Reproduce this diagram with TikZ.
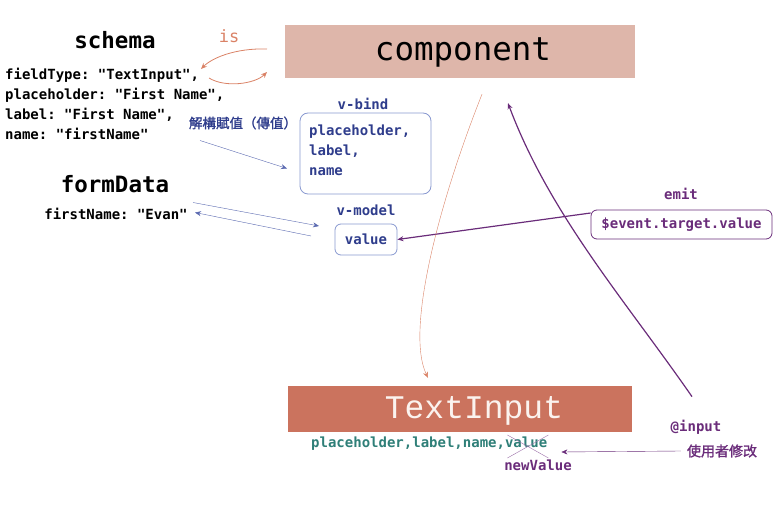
\documentclass[tikz,border=0pt]{standalone}
\usepackage{fontspec}
\setmonofont{DejaVu Sans Mono}
\newfontfamily\cjk[FakeBold=1.5]{Noto Sans CJK TC}
\newfontfamily\slabmono{Liberation Mono}
\usetikzlibrary{arrows.meta, positioning}
\definecolor{isorange}{RGB}{218, 130, 102}
\definecolor{compfill}{RGB}{222, 182, 170}
\definecolor{inputfill}{RGB}{203, 115, 94}
\definecolor{inputtext}{RGB}{251, 243, 239}
\definecolor{bindblue}{RGB}{47, 61, 140}
\definecolor{boxblue}{RGB}{136, 152, 208}
\definecolor{arrowblue}{RGB}{90, 105, 176}
\definecolor{emitpurple}{RGB}{106, 44, 122}
\definecolor{crosspurple}{RGB}{155, 111, 168}
\definecolor{propteal}{RGB}{47, 127, 120}

\tikzset{
  code/.style={font=\ttfamily\bfseries\fontsize{14}{20}\selectfont, inner sep=0pt},
  heading/.style={font=\ttfamily\bfseries\fontsize{22.5}{26}\selectfont, inner sep=0pt},
  cjktext/.style={font=\cjk\fontsize{13.5}{16}\selectfont, inner sep=0pt},
  tip/.style={-{Stealth[length=6pt, width=5pt]}},
}

\begin{document}
\begin{tikzpicture}[x=1pt, y=-1pt]
  \useasboundingbox (0,0) rectangle (784,510);

  % Schema
  \node[heading] (schema) at (115,40) {schema};
  \node[code, align=left, anchor=north west] (schemadata) at (5,68) {fieldType: "TextInput",\\placeholder: "First Name",\\label: "First Name",\\name: "firstName"};

  % Component
  \node[fill=compfill, minimum width=350pt, minimum height=53pt] (component) at (460,51.5) {};
  \node[font=\ttfamily\fontsize{32.5}{36}\selectfont, inner sep=0pt] (comptext) at (463,52) {component};

  % is
  \node[font=\ttfamily\fontsize{17}{20}\selectfont, text=isorange, inner sep=0pt] (is) at (229,36) {is};
  \coordinate (isfrom) at (267,49);
  \coordinate (isto) at (201,69);
  \coordinate (isback) at (209,78);
  \coordinate (isback end) at (267,72);
  \draw[isorange, thick, tip] (isfrom) .. controls (235,48) and (212,58) .. (isto);
  \draw[isorange, thick, tip] (isback) .. controls (225,88) and (255,84) .. (isback end);

  % v-bind
  \node[code, text=bindblue] (vbindlbl) at (363,104) {v-bind};
  \node[draw=boxblue, thick, rounded corners=8pt, minimum width=131pt, minimum height=81pt] (vbind) at (365.5,153.5) {};
  \node[code, text=bindblue, align=left, anchor=north west] (vbindtext) at (309,125) {placeholder,\\label,\\name};

  % Destructuring
  \node[cjktext, text=bindblue] (destruct) at (243,123) {解構賦值（傳值）};
  \coordinate (destruct from) at (200,140.5);
  \coordinate (destruct to) at (287,168.5);
  \draw[arrowblue, tip] (destruct from) -- (destruct to);

  % formData
  \node[heading] (formdata) at (115,184) {formData};
  \node[code] (formvalue) at (116,214) {firstName: "Evan"};

  % v-model
  \node[code, text=bindblue] (vmodellbl) at (366,210) {v-model};
  \node[draw=boxblue, thick, rounded corners=6pt, minimum width=62pt, minimum height=31pt, code, text=bindblue] (value) at (366,239.5) {value};
  \coordinate (model from) at (193,202.5);
  \coordinate (model to) at (319,226);
  \coordinate (model back) at (311,236);
  \coordinate (model back end) at (195,212.5);
  \draw[arrowblue, tip] (model from) -- (model to);
  \draw[arrowblue, tip] (model back) -- (model back end);

  % emit
  \node[code, text=emitpurple] (emitlbl) at (681,194) {emit};
  \node[draw=emitpurple, thick, rounded corners=6pt, minimum width=181pt, minimum height=29pt, code, text=emitpurple] (event) at (681.5,224.5) {\$event.target.value};
  \draw[emitpurple, line width=1.2pt, tip] ([yshift=11.5pt]event.west) -- (value.east);

  % TextInput
  \node[fill=inputfill, minimum width=344pt, minimum height=46pt] (textinput) at (460,409) {};
  \node[font=\slabmono\fontsize{33}{36}\selectfont, text=inputtext, inner sep=0pt] (inputtextlbl) at (474,411) {TextInput};

  % Props down
  \draw[isorange, tip] ([xshift=22pt, yshift=-16pt]component.south) .. controls (440,200) and (405,330) .. ([xshift=-32pt, yshift=8pt]textinput.north);

  \node[code, text=propteal, anchor=west] (props) at (311,444) {placeholder,label,name,value};
  \draw[crosspurple] ([xshift=-40pt, yshift=9pt]props.east) -- ([xshift=1pt, yshift=-14pt]props.east);
  \draw[crosspurple] ([xshift=-40pt, yshift=-14pt]props.east) -- ([xshift=1pt, yshift=9pt]props.east);
  \node[code, text=emitpurple] (newvalue) at (538,465) {newValue};

  % @input
  \node[code, text=emitpurple] (atinput) at (696,427) {@input};
  \node[cjktext, font=\cjk\fontsize{14}{16}\selectfont, text=emitpurple] (usermod) at (722,451) {使用者修改};
  \draw[emitpurple, tip] ([xshift=-6pt]usermod.west) -- ([xshift=14pt, yshift=-8pt]props.east);
  \draw[emitpurple, line width=1.2pt, tip] ([xshift=-4pt, yshift=23pt]atinput.north) .. controls (625,300) and (550,215) .. ([xshift=48pt, yshift=-25pt]component.south);
\end{tikzpicture}
\end{document}
